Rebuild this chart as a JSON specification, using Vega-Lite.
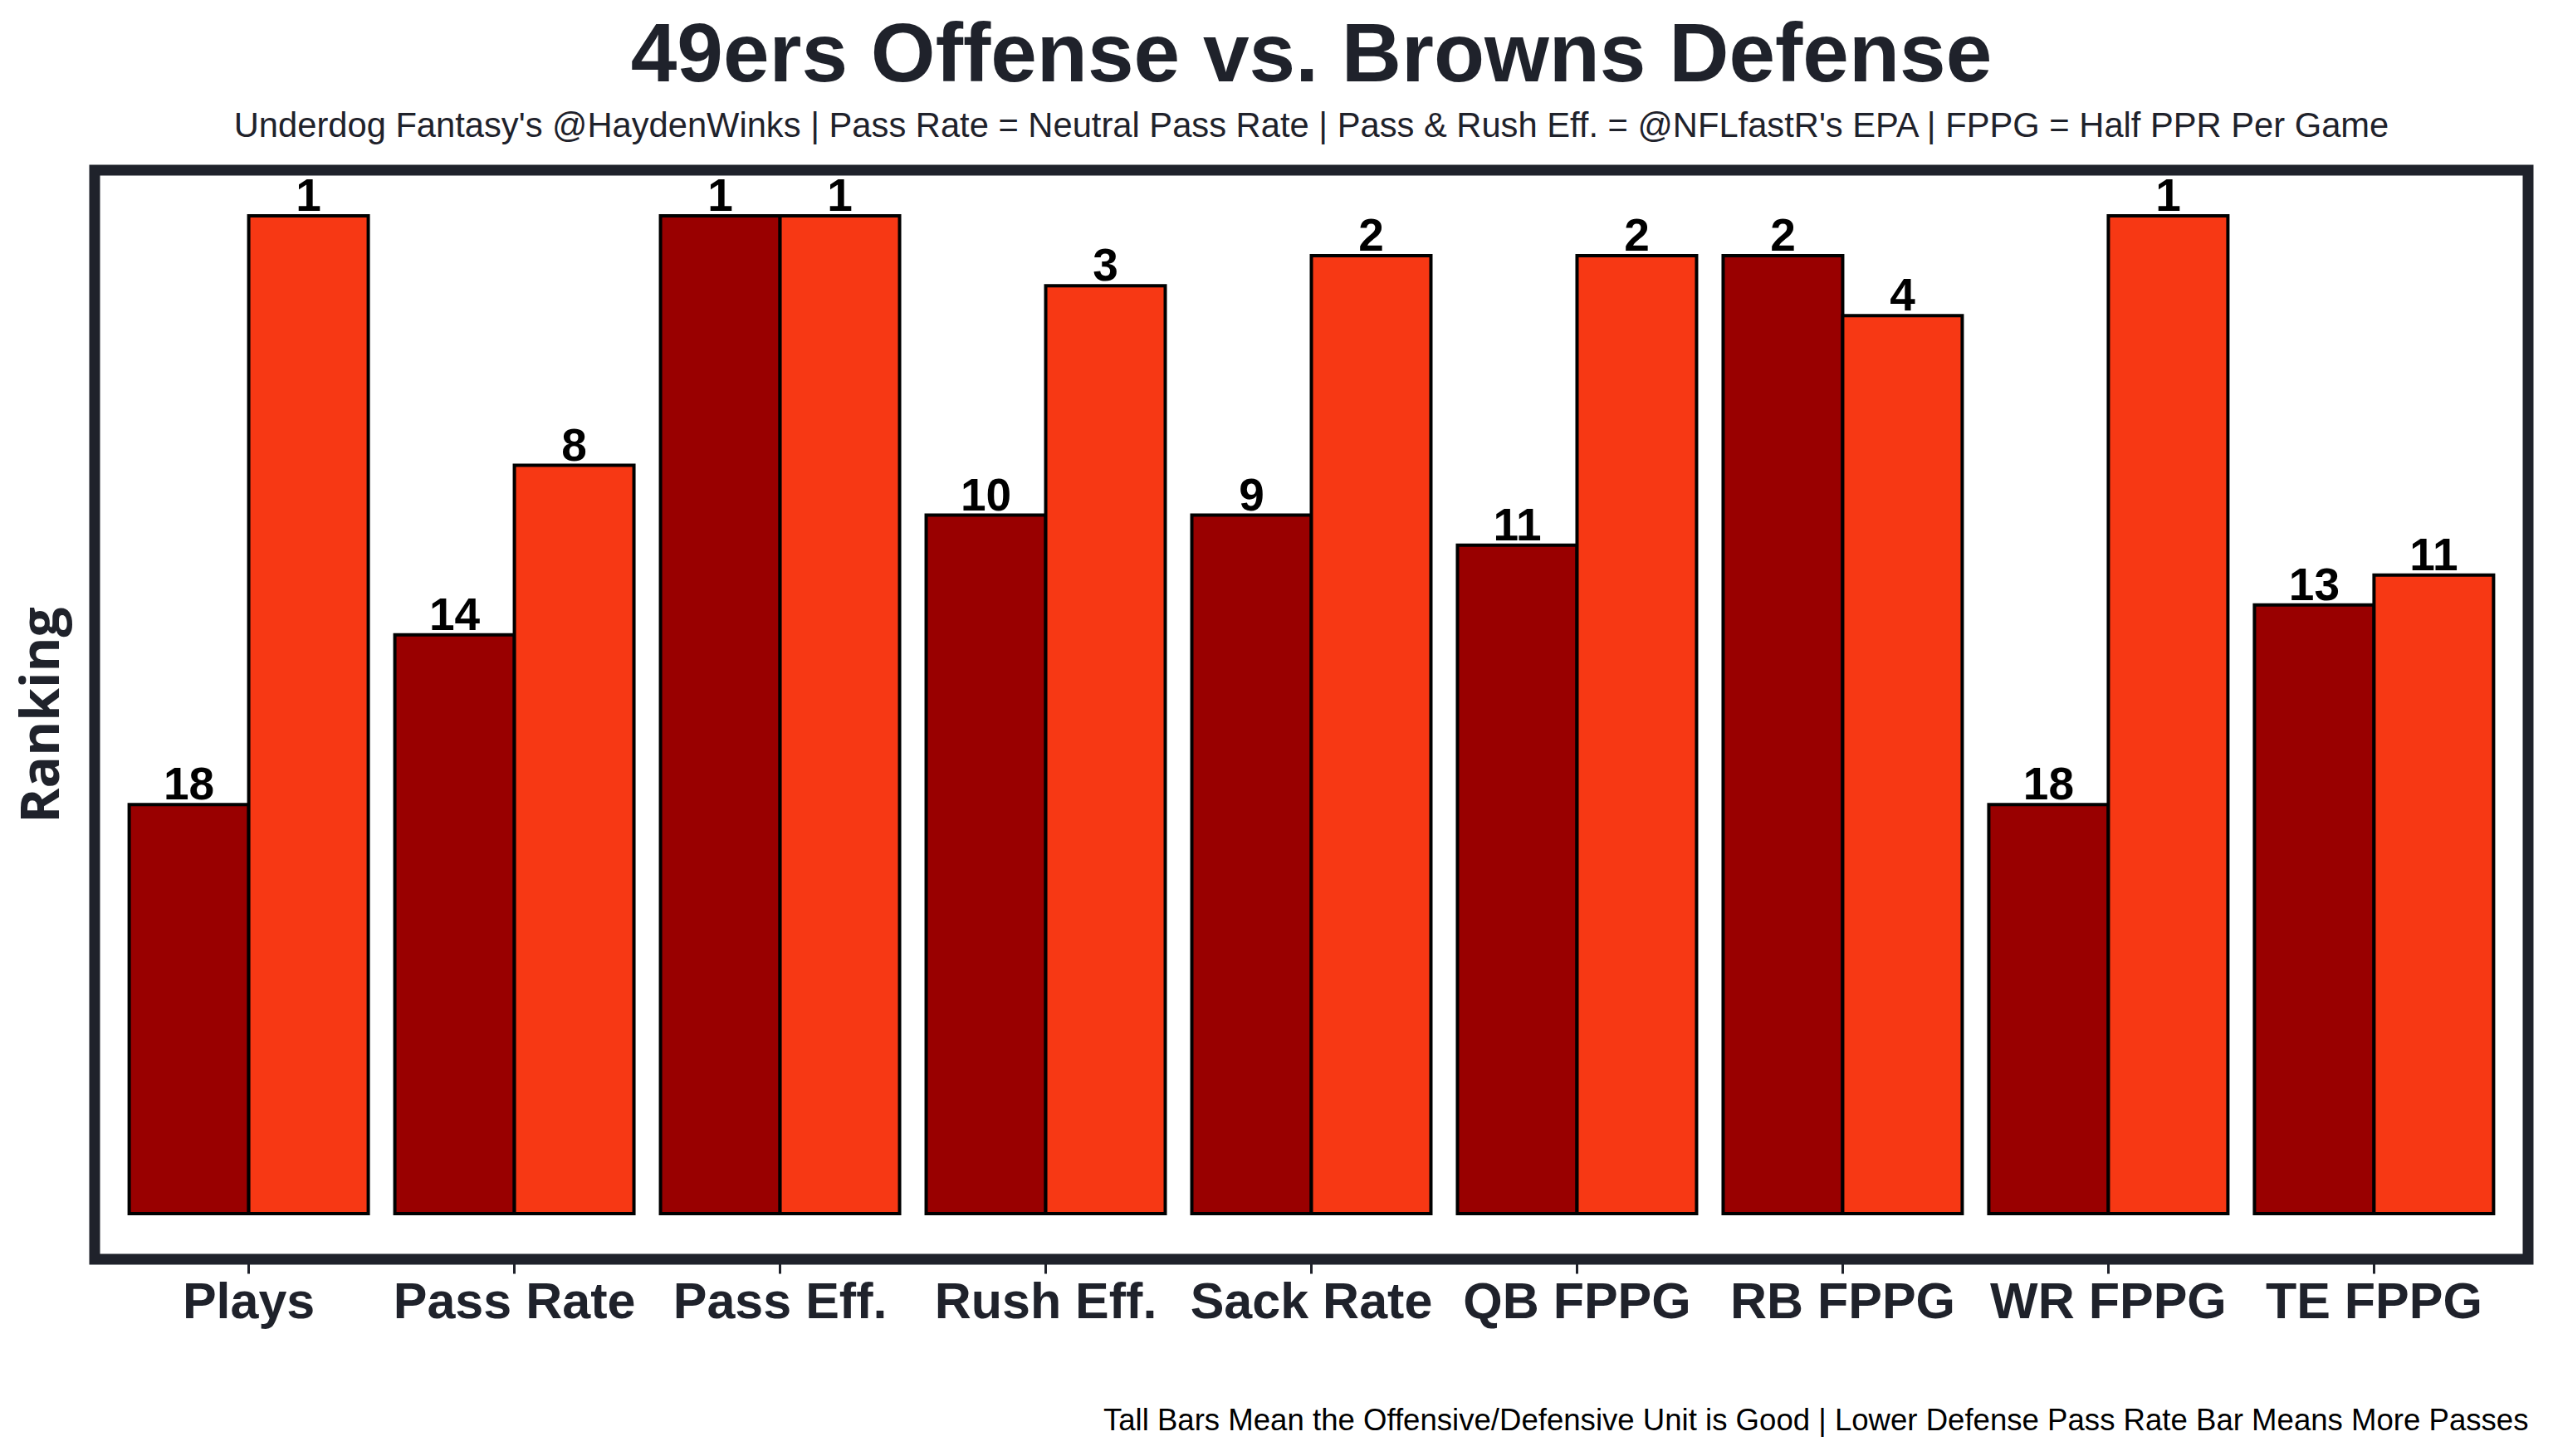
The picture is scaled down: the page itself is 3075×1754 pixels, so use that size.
{
  "$schema": "https://vega.github.io/schema/vega-lite/v6.json",
  "autosize": "none",
  "width": 2931,
  "height": 1312,
  "padding": {"left": 114, "top": 205, "right": 30, "bottom": 237},
  "background": "white",
  "config": {
    "view": {"stroke": "#1f222b", "strokeWidth": 13},
    "font": "Liberation Sans"
  },
  "title": {
    "text": "49ers Offense vs. Browns Defense",
    "subtitle": "Underdog Fantasy's @HaydenWinks | Pass Rate = Neutral Pass Rate | Pass & Rush Eff. = @NFLfastR's EPA | FPPG = Half PPR Per Game",
    "font": "Liberation Sans",
    "fontSize": 100,
    "fontWeight": "bold",
    "color": "#1f222b",
    "subtitleFont": "Liberation Sans",
    "subtitleFontSize": 41.7,
    "subtitleColor": "#1f222b",
    "subtitlePadding": 13,
    "anchor": "middle",
    "frame": "group",
    "offset": 30
  },
  "data": {
    "values": [
      {"category": "Plays", "team": "Offense", "rank": 18, "score": 41},
      {"category": "Plays", "team": "Defense", "rank": 1, "score": 100},
      {"category": "Pass Rate", "team": "Offense", "rank": 14, "score": 58},
      {"category": "Pass Rate", "team": "Defense", "rank": 8, "score": 75},
      {"category": "Pass Eff.", "team": "Offense", "rank": 1, "score": 100},
      {"category": "Pass Eff.", "team": "Defense", "rank": 1, "score": 100},
      {"category": "Rush Eff.", "team": "Offense", "rank": 10, "score": 70},
      {"category": "Rush Eff.", "team": "Defense", "rank": 3, "score": 93},
      {"category": "Sack Rate", "team": "Offense", "rank": 9, "score": 70},
      {"category": "Sack Rate", "team": "Defense", "rank": 2, "score": 96},
      {"category": "QB FPPG", "team": "Offense", "rank": 11, "score": 67},
      {"category": "QB FPPG", "team": "Defense", "rank": 2, "score": 96},
      {"category": "RB FPPG", "team": "Offense", "rank": 2, "score": 96},
      {"category": "RB FPPG", "team": "Defense", "rank": 4, "score": 90},
      {"category": "WR FPPG", "team": "Offense", "rank": 18, "score": 41},
      {"category": "WR FPPG", "team": "Defense", "rank": 1, "score": 100},
      {"category": "TE FPPG", "team": "Offense", "rank": 13, "score": 61},
      {"category": "TE FPPG", "team": "Defense", "rank": 11, "score": 64}
    ]
  },
  "encoding": {
    "x": {
      "field": "category",
      "type": "nominal",
      "sort": ["Plays", "Pass Rate", "Pass Eff.", "Rush Eff.", "Sack Rate", "QB FPPG", "RB FPPG", "WR FPPG", "TE FPPG"],
      "scale": {"paddingInner": 0.1, "paddingOuter": 0.13},
      "axis": {
        "title": "Tall Bars Mean the Offensive/Defensive Unit is Good | Lower Defense Pass Rate Bar Means More Passes",
        "titleFont": "Liberation Sans",
        "titleFontSize": 36.6,
        "titleFontWeight": "normal",
        "titleColor": "#000000",
        "titleAnchor": "end",
        "titlePadding": 94,
        "labelAngle": 0,
        "labelLimit": 0,
        "labelFont": "Liberation Sans",
        "labelFontSize": 61,
        "labelFontWeight": "bold",
        "labelColor": "#1f222b",
        "labelPadding": 5,
        "tickSize": 17,
        "tickWidth": 3,
        "tickColor": "#1f222b",
        "domain": false
      }
    },
    "xOffset": {
      "field": "team",
      "type": "nominal",
      "sort": ["Offense", "Defense"],
      "scale": {"paddingInner": 0, "paddingOuter": 0}
    },
    "y": {
      "field": "score",
      "type": "quantitative",
      "scale": {"domain": [-4.58, 104.58], "nice": false, "zero": false},
      "axis": {
        "title": "Ranking",
        "titleFont": "Open Sans",
        "titleFontSize": 64,
        "titleFontWeight": "bold",
        "titleColor": "#1f222b",
        "titlePadding": 31,
        "labels": false,
        "ticks": false,
        "domain": false,
        "grid": false
      }
    }
  },
  "layer": [
    {
      "mark": {"type": "bar", "stroke": "#000000", "strokeWidth": 4},
      "encoding": {
        "y2": {"datum": 0},
        "color": {
          "field": "team",
          "type": "nominal",
          "scale": {"domain": ["Offense", "Defense"], "range": ["#990000", "#F73814"]},
          "legend": null
        }
      }
    },
    {
      "mark": {"type": "text", "baseline": "alphabetic", "dy": -6, "fontSize": 55, "fontWeight": "bold", "font": "Liberation Sans", "color": "#000000"},
      "encoding": {
        "text": {"field": "rank", "type": "quantitative"}
      }
    }
  ]
}
